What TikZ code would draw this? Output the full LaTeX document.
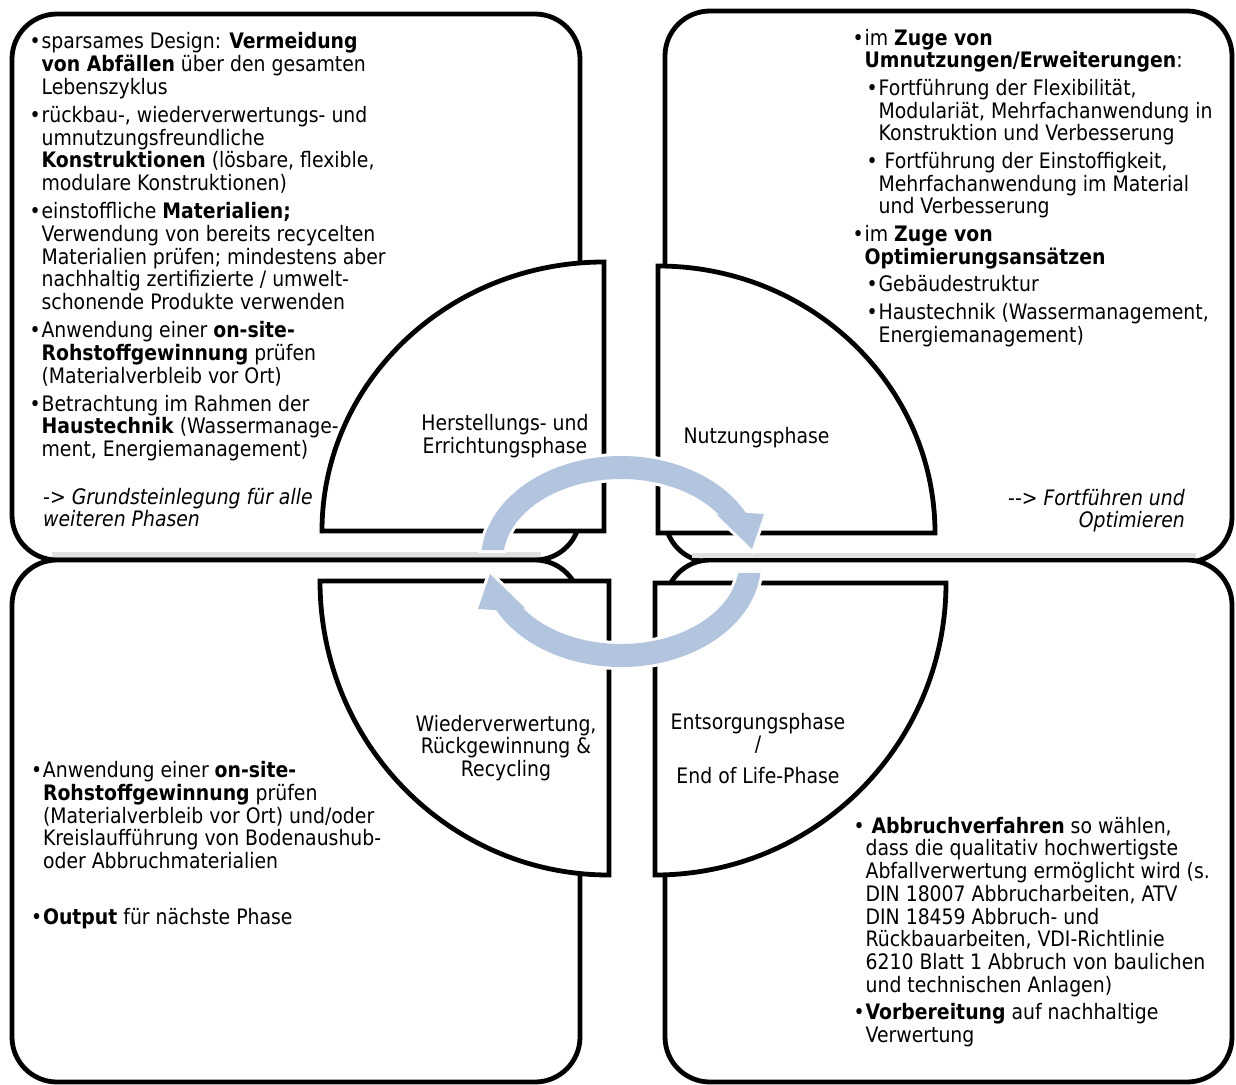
\documentclass[tikz,border=0pt]{standalone}
\usepackage{fontspec}
\setmainfont{DejaVu Sans}[FakeStretch=0.885]
\definecolor{arrowblue}{RGB}{179,196,222}
\newcommand\bodyfont{\fontsize{21.3}{22.7}\selectfont}
\newcommand\bul{\makebox[12pt][l]{•}}
\newcommand\ind{\hspace*{12pt}}
\newcommand\sind{\hspace*{14pt}}
\newcommand\cind{\hspace*{26pt}}
\newcommand\fst{\rule{0pt}{18pt}}
\tikzset{
  bigbox/.style={draw=black, line width=4.8pt, fill=white, rounded corners=45pt},
  quarterdisc/.style={draw=black, line width=4.8pt, fill=white, line join=miter},
  txt/.style={anchor=north west, inner sep=0pt, align=left, font=\bodyfont},
  rtxt/.style={anchor=north east, inner sep=0pt, align=right, font=\bodyfont\itshape},
  lbl/.style={anchor=north, inner sep=0pt, align=center, font=\bodyfont},
  cyc/.style={fill=arrowblue, preaction={draw=white, line width=6pt, line join=miter}},
  shadowline/.style={draw=black!12, line width=5pt}
}
\begin{document}
\begin{tikzpicture}[x=1pt,y=-1pt]
\useasboundingbox (0,0) rectangle (1236,1084);
% big rounded boxes
\draw[bigbox] (12,14) rectangle (580,560);
\draw[bigbox] (665,11) rectangle (1232,562);
\draw[bigbox] (12,560) rectangle (580,1082);
\draw[bigbox] (665,560) rectangle (1232,1082);
% soft shadow lines
\draw[shadowline] (52,554) -- (541,554);
\draw[shadowline] (692,555) -- (1196,555);
% quarter discs
\draw[quarterdisc] (604,531) -- (322,531) arc[start angle=180, end angle=90, x radius=282pt, y radius=269pt] -- cycle;
\draw[quarterdisc] (658,533) -- (658,266) arc[start angle=90, end angle=0, x radius=277pt, y radius=267pt] -- cycle;
\draw[quarterdisc] (609,581) -- (320,581) arc[start angle=180, end angle=270, x radius=289pt, y radius=294pt] -- cycle;
\draw[quarterdisc] (655,583) -- (946,583) arc[start angle=0, end angle=-90, x radius=291pt, y radius=292pt] -- cycle;
% texts of the boxes
\node[txt] (tltext) at (29.4,30.5) {\fst\bul sparsames Design: \textbf{Vermeidung}\\
\ind\textbf{von Abfällen} über den gesamten\\
\ind Lebenszyklus\\[5.5pt]
\bul rückbau-, wiederverwertungs- und\\
\ind umnutzungsfreundliche\\
\ind\textbf{Konstruktionen} (lösbare, flexible,\\
\ind modulare Konstruktionen)\\[5.5pt]
\bul einstoffliche \textbf{Materialien;}\\
\ind Verwendung von bereits recycelten\\
\ind Materialien prüfen; mindestens aber\\
\ind nachhaltig zertifizierte / umwelt-\\
\ind schonende Produkte verwenden\\[5.5pt]
\bul Anwendung einer \textbf{on-site-}\\
\ind\textbf{Rohstoffgewinnung} prüfen\\
\ind (Materialverbleib vor Ort)\\[5.5pt]
\bul Betrachtung im Rahmen der\\
\ind\textbf{Haustechnik} (Wassermanage-\\
\ind ment, Energiemanagement)};
\node[txt, font=\bodyfont\itshape] (tlnote) at (43,486) {\fst -> Grundsteinlegung für alle\\weiteren Phasen};
\node[txt] (trtext) at (852.4,27) {\fst\bul im \textbf{Zuge von}\\
\ind\textbf{Umnutzungen/Erweiterungen}:\\[4.9pt]
\sind\bul Fortführung der Flexibilität,\\
\cind Modulariät, Mehrfachanwendung in\\
\cind Konstruktion und Verbesserung\\[4.9pt]
\sind\bul\ Fortführung der Einstoffigkeit,\\
\cind Mehrfachanwendung im Material\\
\cind und Verbesserung\\[4.9pt]
\bul im \textbf{Zuge von}\\
\ind\textbf{Optimierungsansätzen}\\[4.9pt]
\sind\bul Gebäudestruktur\\[4.9pt]
\sind\bul Haustechnik (Wassermanagement,\\
\cind Energiemanagement)};
\node[rtxt] (trnote) at (1185,487) {\fst\textup{-{}->} Fortführen und\\Optimieren};
\node[txt] (bltext) at (30.8,759.5) {\fst\bul Anwendung einer \textbf{on-site-}\\
\ind\textbf{Rohstoffgewinnung} prüfen\\
\ind (Materialverbleib vor Ort) und/oder\\
\ind Kreislaufführung von Bodenaushub-\\
\ind oder Abbruchmaterialien\\[33pt]
\bul\textbf{Output} für nächste Phase};
\node[txt] (brtext) at (853.4,815) {\fst\bul\ \textbf{Abbruchverfahren} so wählen,\\
\ind dass die qualitativ hochwertigste\\
\ind Abfallverwertung ermöglicht wird (s.\\
\ind DIN 18007 Abbrucharbeiten, ATV\\
\ind DIN 18459 Abbruch- und\\
\ind Rückbauarbeiten, VDI-Richtlinie\\
\ind 6210 Blatt 1 Abbruch von baulichen\\
\ind und technischen Anlagen)\\[5pt]
\bul\textbf{Vorbereitung} auf nachhaltige\\
\ind Verwertung};
% phase labels
\node[lbl] (herst) at (505,412.5) {\fst Herstellungs- und\\Errichtungsphase};
\node[lbl] (nutz) at (756.5,425.5) {\fst Nutzungsphase};
\node[lbl] (wieder) at (506,713) {\fst Wiederverwertung,\\Rückgewinnung \&\\Recycling};
\node[lbl] (entsorg) at (758,711) {\fst Entsorgungsphase\\/\\[9pt]End of Life-Phase};
% cycle arrows
\path[cyc] (481.64,550.03) arc[start angle=174.5, end angle=27, x radius=140pt, y radius=104pt]
  -- (764,514) -- (752,549) -- (716,514) -- (719.96,515.88)
  arc[start angle=33, end angle=172.9, x radius=118pt, y radius=81pt] -- cycle;
\path[cyc] (760.36,572.97) arc[start angle=-5.5, end angle=-153, x radius=140pt, y radius=104pt]
  -- (478,609) -- (490,574) -- (526,609) -- (522.04,607.12)
  arc[start angle=-147, end angle=-7.1, x radius=118pt, y radius=81pt] -- cycle;
\end{tikzpicture}
\end{document}
